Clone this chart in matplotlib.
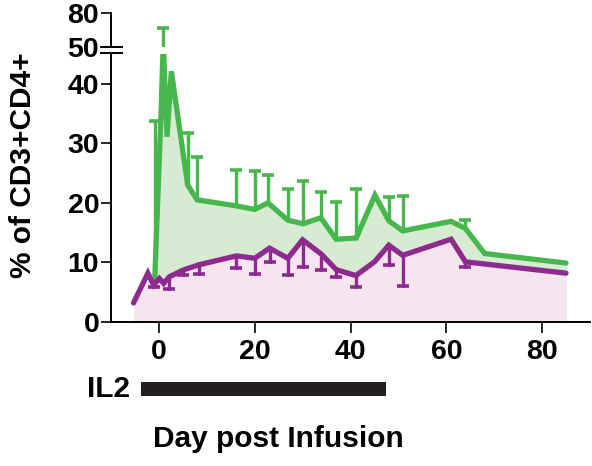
import numpy as np
import matplotlib
matplotlib.use("Agg")
import matplotlib.pyplot as plt
from matplotlib.lines import Line2D
from matplotlib.patches import Rectangle
import matplotlib.transforms as mtransforms

plt.rcParams['font.family'] = ['Liberation Sans', 'DejaVu Sans']
plt.rcParams['font.weight'] = 'bold'

# ---- data ----
green_x = [-0.9, 0.5, 0.9, 1.7, 2.6, 6.0, 8.0, 16.2, 20.0, 22.8, 26.9, 30.1, 33.8,
           37.0, 41.2, 45.1, 48.0, 50.9, 61.0, 64.0, 68.0, 85.0]
green_y = [6.5, 36.2, 47.0, 31.1, 42.1, 23.0, 20.5, 19.5, 18.9, 20.0, 17.1, 16.5, 17.5,
           13.9, 14.1, 21.3, 17.0, 15.3, 16.9, 15.7, 11.5, 9.9]
green_hi = [33.8, np.nan, 67.0, np.nan, np.nan, 31.7, 27.7, 25.5, 25.4, 24.7, 22.4, 23.6, 21.8,
            20.1, 22.4, np.nan, 21.0, 21.1, np.nan, 17.1, np.nan, np.nan]

purple_x = [-5.3, -2.3, -1.1, 0.1, 1.0, 2.2, 5.0, 8.3, 16.2, 20.0, 23.1, 26.9, 30.0,
            33.9, 37.0, 41.1, 45.0, 48.0, 50.9, 61.0, 64.0, 85.0]
purple_y = [3.2, 8.2, 6.2, 7.3, 6.5, 7.6, 8.7, 9.6, 11.1, 10.7, 12.4, 10.7, 13.8,
            11.4, 8.8, 7.8, 10.1, 12.9, 11.2, 13.9, 10.1, 8.2]
purple_lo = [np.nan, np.nan, 5.9, np.nan, np.nan, 5.5, 7.9, 8.1, 9.0, 8.1, 10.1, 7.9, 9.3,
             8.7, 7.5, 5.8, np.nan, 9.6, 6.1, np.nan, 9.3, np.nan]

il2_start, il2_end = -3.8, 47.5
x_ticks = [0, 20, 40, 60, 80]
y_ticks_low = [0, 10, 20, 30, 40]
y_ticks_high = [50, 80]

GREEN = '#47b64c'
GREEN_FILL = '#d7ebd3'
PURPLE = '#8c2a8d'
PINK_FILL = '#f6e4ef'

W, H = 592, 466
fig = plt.figure(figsize=(W / 100, H / 100), dpi=100)

def fx(px):
    return px / W

def fy(py):
    return 1 - py / H

ax_left, ax_right = 111, 590
low_top, low_bot = 54, 322
up_top, up_bot = 13, 47

ax = fig.add_axes([fx(ax_left), fy(low_bot), fx(ax_right - ax_left), (low_bot - low_top) / H])
axu = fig.add_axes([fx(ax_left), fy(up_bot), fx(ax_right - ax_left), (up_bot - up_top) / H])

for a in (ax, axu):
    a.set_xlim(-10, 90)
    a.patch.set_alpha(0)
    for s in ('top', 'right'):
        a.spines[s].set_visible(False)
    a.spines['left'].set_linewidth(1.4)
    a.tick_params(axis='y', length=7, width=1.2, pad=1.5, labelsize=20.5)
ax.set_ylim(0, 45)
axu.set_ylim(50, 80)
axu.spines['bottom'].set_visible(False)
axu.set_xticks([])
ax.spines['bottom'].set_linewidth(1.4)
ax.set_xticks(x_ticks)
ax.tick_params(axis='x', length=8, width=1.2, pad=4, labelsize=20.5)
ax.set_yticks(y_ticks_low)
axu.set_yticks(y_ticks_high)

gx = np.array(green_x); gy = np.array(green_y); gh = np.array(green_hi)
px_ = np.array(purple_x); py_ = np.array(purple_y); pl = np.array(purple_lo)

# fills
ax.fill_between(gx, 0, gy, color=GREEN_FILL, lw=0, zorder=1)
ax.fill_between(px_, 0, py_, color=PINK_FILL, lw=0, zorder=2)

for a in (ax, axu):
    # green error bars (upward)
    m = ~np.isnan(gh)
    a.vlines(gx[m], gy[m], gh[m], color=GREEN, lw=2.4, zorder=3, capstyle='round')
    a.plot(gx[m], gh[m], ls='none', marker='_', ms=9, mew=2.6, color=GREEN, zorder=3)
    a.plot(gx, gy, color=GREEN, lw=3.8, zorder=4, solid_joinstyle='miter', solid_capstyle='round')
    # purple error bars (downward)
    m2 = ~np.isnan(pl)
    a.vlines(px_[m2], pl[m2], py_[m2], color=PURPLE, lw=2.4, zorder=5, capstyle='round')
    a.plot(px_[m2], pl[m2], ls='none', marker='_', ms=9, mew=2.6, color=PURPLE, zorder=5)
    a.plot(px_, py_, color=PURPLE, lw=3.8, zorder=6, solid_joinstyle='miter', solid_capstyle='round')

# axis break marks
for yb in (46.7, 52.5):
    fig.add_artist(Line2D([fx(101), fx(122)], [fy(yb), fy(yb)], color='black', lw=1.4))

# IL2 bar
trans = mtransforms.blended_transform_factory(ax.transData, ax.transAxes)
bar_y0 = (low_bot - 396) / (low_bot - low_top)
bar_h = (396 - 381.7) / (low_bot - low_top)
ax.add_patch(Rectangle((il2_start, bar_y0), il2_end - il2_start, bar_h, transform=trans,
                       color='#231f20', clip_on=False, lw=0))
fig.text(fx(130), fy(389), 'IL2', ha='right', va='center', fontsize=21.5, fontweight='bold')

fig.text(fx(278), fy(446.7), 'Day post Infusion', ha='center', va='baseline',
         fontsize=21.5, fontweight='bold')
fig.text(fx(23), fy(165.5), '% of CD3+CD4+', ha='center', va='center', rotation=90,
         fontsize=21.5, fontweight='bold')

fig.savefig('out.png', dpi=100)
